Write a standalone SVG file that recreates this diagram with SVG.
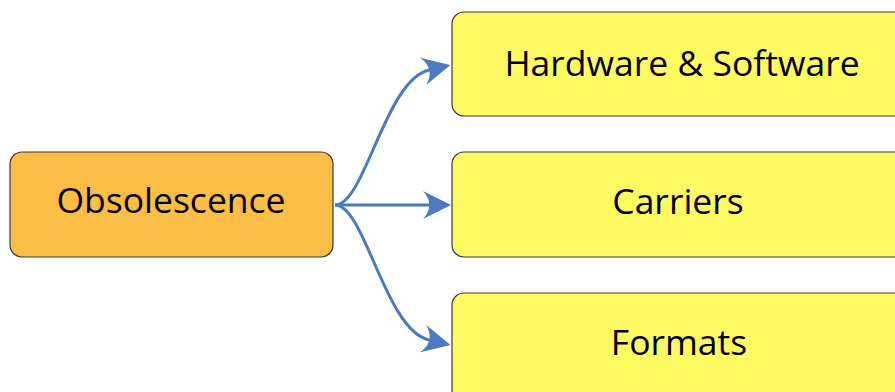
<svg xmlns="http://www.w3.org/2000/svg" width="895" height="392" viewBox="0 0 895 392">
<style>
.box{stroke:#3a3a3a;stroke-width:1.2}
.root{fill:#fbbd45}
.leaf{fill:#fffa62}
.lbl{font-family:"Open Sans","Noto Sans",sans-serif;font-size:35.5px;fill:#000;text-anchor:middle}
.conn{fill:none;stroke:#4a7bc1;stroke-width:3}
</style>
<defs>
<marker id="arr" viewBox="0 0 28 30" refX="6" refY="15" markerWidth="28" markerHeight="30" markerUnits="userSpaceOnUse" orient="auto">
<path d="M28,15 Q14,8 0,1 Q7,9 6,15 Q7,21 0,29 Q14,22 28,15 Z" fill="#4a7bc1"/>
</marker>
</defs>
<g id="connectors">
<path class="conn" d="M335,205 C365,205 385,80 429,70" marker-end="url(#arr)"/>
<path class="conn" d="M335,205 L429,205" marker-end="url(#arr)"/>
<path class="conn" d="M335,205 C365,205 385,330 429,340" marker-end="url(#arr)"/>
</g>
<g id="obsolescence">
<rect class="box root" x="10" y="152" width="323" height="105" rx="12"/>
<text class="lbl" x="171" y="213">Obsolescence</text>
</g>
<g id="hardware">
<rect class="box leaf" x="452" y="12" width="460" height="104" rx="12"/>
<text class="lbl" x="682" y="76">Hardware &amp; Software</text>
</g>
<g id="carriers">
<rect class="box leaf" x="452" y="152" width="460" height="105" rx="12"/>
<text class="lbl" x="678" y="214">Carriers</text>
</g>
<g id="formats">
<rect class="box leaf" x="452" y="293" width="460" height="110" rx="12"/>
<text class="lbl" x="679" y="355">Formats</text>
</g>
</svg>
